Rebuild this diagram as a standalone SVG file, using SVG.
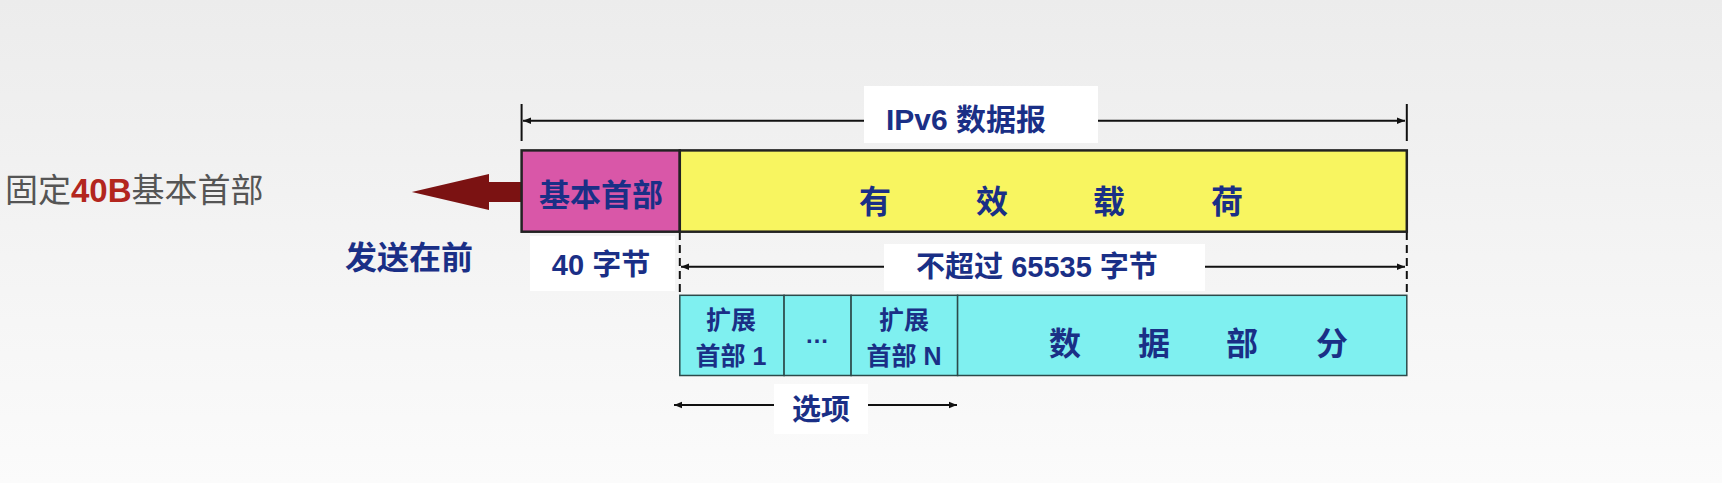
<svg xmlns="http://www.w3.org/2000/svg" width="1722" height="483" viewBox="0 0 1722 483">
<defs>
<linearGradient id="bg" x1="0" y1="0" x2="0" y2="1"><stop offset="0" stop-color="#ececec"/><stop offset="1" stop-color="#fbfbfb"/></linearGradient>
<marker id="ah" viewBox="0 0 10 10" refX="10" refY="5" markerWidth="10" markerHeight="8" markerUnits="userSpaceOnUse" orient="auto-start-reverse"><path d="M0,1 L10,5 L0,9 z" fill="#111"/></marker>
<style>
.t{font-family:"Liberation Sans","Noto Sans CJK SC",sans-serif;font-weight:bold;fill:#1a2f86;text-anchor:middle}
.box{stroke:#222;stroke-width:2.5}
.c{stroke:#2c4a4a;stroke-width:1.5;fill:#7ff0f0}
.dim{stroke:#111;stroke-width:2;fill:none}
.lb{fill:#fff}
</style>
</defs>
<rect width="1722" height="483" fill="url(#bg)"/>
<g id="connectors">
<line class="dim" x1="521.6" y1="104" x2="521.6" y2="141"/>
<line class="dim" x1="1406.8" y1="104" x2="1406.8" y2="141"/>
<line class="dim" x1="523" y1="120.8" x2="1405" y2="120.8" marker-start="url(#ah)" marker-end="url(#ah)"/>
<line class="dim" x1="679.8" y1="232" x2="679.8" y2="295" stroke-dasharray="8,5"/>
<line class="dim" x1="1406.8" y1="232" x2="1406.8" y2="295" stroke-dasharray="8,5"/>
<line class="dim" x1="681" y1="266.8" x2="1405" y2="266.8" marker-start="url(#ah)" marker-end="url(#ah)"/>
<line class="dim" x1="674" y1="405" x2="957" y2="405" marker-start="url(#ah)" marker-end="url(#ah)"/>
<path d="M521.6,182 L489,182 L489,174 L411.8,192 L489,210 L489,202 L521.6,202 z" fill="#7b1212"/>
</g>
<g id="labels">
<rect class="lb" x="864" y="86" width="234" height="57"/>
<text class="t" x="966" y="130" font-size="30">IPv6 数据报</text>
<rect class="lb" x="530" y="236" width="145" height="55"/>
<text class="t" x="601" y="275" font-size="29">40 字节</text>
<rect class="lb" x="884" y="244" width="321" height="47"/>
<text class="t" x="1037" y="277" font-size="29">不超过 65535 字节</text>
<rect class="lb" x="774" y="384" width="94" height="50"/>
<text class="t" x="821" y="420" font-size="29">选项</text>
<text x="5" y="202" font-family="Liberation Sans,'Noto Sans CJK SC',sans-serif" font-size="33" fill="#555">固定<tspan fill="#b3261e" font-weight="bold">40B</tspan>基本首部</text>
<text class="t" x="409" y="269" font-size="32">发送在前</text>
</g>
<g id="base-header"><rect class="box" x="521.6" y="150.4" width="158.2" height="81.3" fill="#d957a8"/><text class="t" x="601" y="206" font-size="31">基本首部</text></g>
<g id="payload"><rect class="box" x="679.8" y="150.4" width="727" height="81.3" fill="#f8f560"/>
<text class="t" font-size="32" y="213"><tspan x="875">有</tspan><tspan x="992">效</tspan><tspan x="1109">载</tspan><tspan x="1227">荷</tspan></text></g>
<g id="ext1"><rect class="c" x="679.8" y="295.3" width="104.3" height="80.2"/><text class="t" font-size="25"><tspan x="731" y="329">扩展</tspan><tspan x="731" y="365">首部 1</tspan></text></g>
<g id="dots"><rect class="c" x="784.1" y="295.3" width="67" height="80.2"/><text class="t" font-size="24" x="817" y="343">…</text></g>
<g id="extN"><rect class="c" x="851.1" y="295.3" width="106.5" height="80.2"/><text class="t" font-size="25"><tspan x="904" y="329">扩展</tspan><tspan x="904" y="365">首部 N</tspan></text></g>
<g id="data"><rect class="c" x="957.6" y="295.3" width="449.2" height="80.2"/>
<text class="t" font-size="32" y="355"><tspan x="1065">数</tspan><tspan x="1154">据</tspan><tspan x="1242">部</tspan><tspan x="1332">分</tspan></text></g>
</svg>
